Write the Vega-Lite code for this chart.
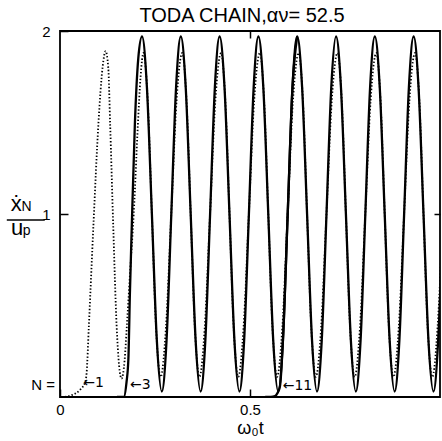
{
  "$schema": "https://vega.github.io/schema/vega-lite/v6.json",
  "width": 380,
  "height": 366,
  "autosize": {"type": "none"},
  "padding": {"left": 60, "top": 31, "right": 2, "bottom": 44},
  "title": {"text": "TODA CHAIN,αν= 52.5", "font": "Liberation Sans", "fontSize": 20, "fontWeight": "normal", "color": "black", "offset": -2, "dx": -8, "anchor": "middle"},
  "config": {
    "view": {"stroke": "black", "strokeWidth": 1.8},
    "font": "Liberation Sans",
    "axis": {"domain": false, "grid": false, "tickColor": "black", "tickWidth": 1.5, "labelColor": "black", "labelFont": "Liberation Sans", "labelFontSize": 15, "labelFlush": false, "titleFont": "Liberation Sans", "titleColor": "black", "titleFontWeight": "normal"}
  },
  "datasets": {
    "curves": [
      {"N": 1, "t": 0.013, "v": 0}, {"N": 1, "t": 0.031, "v": 0.01}, {"N": 1, "t": 0.053, "v": 0.04}, {"N": 1, "t": 0.066, "v": 0.08}, {"N": 1, "t": 0.070, "v": 0.13}, {"N": 1, "t": 0.076, "v": 0.39}, {"N": 1, "t": 0.088, "v": 0.94}, {"N": 1, "t": 0.101, "v": 1.49}, {"N": 1, "t": 0.112, "v": 1.80}, {"N": 1, "t": 0.120, "v": 1.89}, {"N": 1, "t": 0.127, "v": 1.80}, {"N": 1, "t": 0.132, "v": 1.49}, {"N": 1, "t": 0.140, "v": 0.94}, {"N": 1, "t": 0.149, "v": 0.39}, {"N": 1, "t": 0.162, "v": 0.10}, {"N": 1, "t": 0.170, "v": 0.20}, {"N": 1, "t": 0.176, "v": 0.39}, {"N": 1, "t": 0.185, "v": 0.70}, {"N": 1, "t": 0.194, "v": 1.0}, {"N": 1, "t": 0.205, "v": 1.49}, {"N": 1, "t": 0.212, "v": 1.75},
      {"N": 1, "t": 0.2198, "v": 1.88}, {"N": 1, "t": 0.2308, "v": 1.62}, {"N": 1, "t": 0.2418, "v": 1.0}, {"N": 1, "t": 0.2528, "v": 0.38}, {"N": 1, "t": 0.2648, "v": 0.11}, {"N": 1, "t": 0.2788, "v": 0.38}, {"N": 1, "t": 0.2928, "v": 1.0}, {"N": 1, "t": 0.3068, "v": 1.62},
      {"N": 1, "t": 0.3219, "v": 1.88}, {"N": 1, "t": 0.3329, "v": 1.62}, {"N": 1, "t": 0.3439, "v": 1.0}, {"N": 1, "t": 0.3549, "v": 0.38}, {"N": 1, "t": 0.3669, "v": 0.11}, {"N": 1, "t": 0.3809, "v": 0.38}, {"N": 1, "t": 0.3949, "v": 1.0}, {"N": 1, "t": 0.4089, "v": 1.62},
      {"N": 1, "t": 0.4240, "v": 1.88}, {"N": 1, "t": 0.4350, "v": 1.62}, {"N": 1, "t": 0.4460, "v": 1.0}, {"N": 1, "t": 0.4570, "v": 0.38}, {"N": 1, "t": 0.4690, "v": 0.11}, {"N": 1, "t": 0.4830, "v": 0.38}, {"N": 1, "t": 0.4970, "v": 1.0}, {"N": 1, "t": 0.5110, "v": 1.62},
      {"N": 1, "t": 0.5261, "v": 1.88}, {"N": 1, "t": 0.5371, "v": 1.62}, {"N": 1, "t": 0.5481, "v": 1.0}, {"N": 1, "t": 0.5591, "v": 0.38}, {"N": 1, "t": 0.5711, "v": 0.11}, {"N": 1, "t": 0.5851, "v": 0.38}, {"N": 1, "t": 0.5991, "v": 1.0}, {"N": 1, "t": 0.6131, "v": 1.62},
      {"N": 1, "t": 0.6282, "v": 1.88}, {"N": 1, "t": 0.6392, "v": 1.62}, {"N": 1, "t": 0.6502, "v": 1.0}, {"N": 1, "t": 0.6612, "v": 0.38}, {"N": 1, "t": 0.6732, "v": 0.11}, {"N": 1, "t": 0.6872, "v": 0.38}, {"N": 1, "t": 0.7012, "v": 1.0}, {"N": 1, "t": 0.7152, "v": 1.62},
      {"N": 1, "t": 0.7304, "v": 1.88}, {"N": 1, "t": 0.7414, "v": 1.62}, {"N": 1, "t": 0.7524, "v": 1.0}, {"N": 1, "t": 0.7634, "v": 0.38}, {"N": 1, "t": 0.7754, "v": 0.11}, {"N": 1, "t": 0.7894, "v": 0.38}, {"N": 1, "t": 0.8034, "v": 1.0}, {"N": 1, "t": 0.8174, "v": 1.62},
      {"N": 1, "t": 0.8325, "v": 1.88}, {"N": 1, "t": 0.8435, "v": 1.62}, {"N": 1, "t": 0.8545, "v": 1.0}, {"N": 1, "t": 0.8655, "v": 0.38}, {"N": 1, "t": 0.8775, "v": 0.11}, {"N": 1, "t": 0.8915, "v": 0.38}, {"N": 1, "t": 0.9055, "v": 1.0}, {"N": 1, "t": 0.9195, "v": 1.62},
      {"N": 1, "t": 0.9346, "v": 1.88}, {"N": 1, "t": 0.9456, "v": 1.62}, {"N": 1, "t": 0.9566, "v": 1.0}, {"N": 1, "t": 0.9676, "v": 0.38}, {"N": 1, "t": 0.9796, "v": 0.11}, {"N": 1, "t": 0.9936, "v": 0.38}, {"N": 1, "t": 1.0076, "v": 1.0},
      {"N": 3, "t": 0.150, "v": 0}, {"N": 3, "t": 0.168, "v": 0}, {"N": 3, "t": 0.175, "v": 0.08}, {"N": 3, "t": 0.180, "v": 0.21}, {"N": 3, "t": 0.184, "v": 0.57}, {"N": 3, "t": 0.189, "v": 0.94}, {"N": 3, "t": 0.197, "v": 1.49}, {"N": 3, "t": 0.206, "v": 1.85},
      {"N": 3, "t": 0.2158, "v": 1.97}, {"N": 3, "t": 0.2288, "v": 1.69}, {"N": 3, "t": 0.2418, "v": 1.0}, {"N": 3, "t": 0.2548, "v": 0.31}, {"N": 3, "t": 0.2679, "v": 0.03}, {"N": 3, "t": 0.2804, "v": 0.31}, {"N": 3, "t": 0.2929, "v": 1.0}, {"N": 3, "t": 0.3054, "v": 1.69},
      {"N": 3, "t": 0.3179, "v": 1.97}, {"N": 3, "t": 0.3309, "v": 1.69}, {"N": 3, "t": 0.3439, "v": 1.0}, {"N": 3, "t": 0.3569, "v": 0.31}, {"N": 3, "t": 0.3700, "v": 0.03}, {"N": 3, "t": 0.3825, "v": 0.31}, {"N": 3, "t": 0.3950, "v": 1.0}, {"N": 3, "t": 0.4075, "v": 1.69},
      {"N": 3, "t": 0.4200, "v": 1.97}, {"N": 3, "t": 0.4330, "v": 1.69}, {"N": 3, "t": 0.4460, "v": 1.0}, {"N": 3, "t": 0.4590, "v": 0.31}, {"N": 3, "t": 0.4721, "v": 0.03}, {"N": 3, "t": 0.4846, "v": 0.31}, {"N": 3, "t": 0.4971, "v": 1.0}, {"N": 3, "t": 0.5096, "v": 1.69},
      {"N": 3, "t": 0.5221, "v": 1.97}, {"N": 3, "t": 0.5351, "v": 1.69}, {"N": 3, "t": 0.5481, "v": 1.0}, {"N": 3, "t": 0.5611, "v": 0.31}, {"N": 3, "t": 0.5742, "v": 0.03}, {"N": 3, "t": 0.5867, "v": 0.31}, {"N": 3, "t": 0.5992, "v": 1.0}, {"N": 3, "t": 0.6117, "v": 1.69},
      {"N": 3, "t": 0.6242, "v": 1.97}, {"N": 3, "t": 0.6372, "v": 1.69}, {"N": 3, "t": 0.6502, "v": 1.0}, {"N": 3, "t": 0.6632, "v": 0.31}, {"N": 3, "t": 0.6763, "v": 0.03}, {"N": 3, "t": 0.6888, "v": 0.31}, {"N": 3, "t": 0.7013, "v": 1.0}, {"N": 3, "t": 0.7138, "v": 1.69},
      {"N": 3, "t": 0.7264, "v": 1.97}, {"N": 3, "t": 0.7394, "v": 1.69}, {"N": 3, "t": 0.7524, "v": 1.0}, {"N": 3, "t": 0.7654, "v": 0.31}, {"N": 3, "t": 0.7785, "v": 0.03}, {"N": 3, "t": 0.7910, "v": 0.31}, {"N": 3, "t": 0.8035, "v": 1.0}, {"N": 3, "t": 0.8160, "v": 1.69},
      {"N": 3, "t": 0.8285, "v": 1.97}, {"N": 3, "t": 0.8415, "v": 1.69}, {"N": 3, "t": 0.8545, "v": 1.0}, {"N": 3, "t": 0.8675, "v": 0.31}, {"N": 3, "t": 0.8806, "v": 0.03}, {"N": 3, "t": 0.8931, "v": 0.31}, {"N": 3, "t": 0.9056, "v": 1.0}, {"N": 3, "t": 0.9181, "v": 1.69},
      {"N": 3, "t": 0.9306, "v": 1.97}, {"N": 3, "t": 0.9436, "v": 1.69}, {"N": 3, "t": 0.9566, "v": 1.0}, {"N": 3, "t": 0.9696, "v": 0.31}, {"N": 3, "t": 0.9827, "v": 0.03}, {"N": 3, "t": 0.9952, "v": 0.31}, {"N": 3, "t": 1.0077, "v": 1.0},
      {"N": 11, "t": 0.540, "v": 0}, {"N": 11, "t": 0.555, "v": 0}, {"N": 11, "t": 0.566, "v": 0.005}, {"N": 11, "t": 0.572, "v": 0.02}, {"N": 11, "t": 0.579, "v": 0.06}, {"N": 11, "t": 0.5867, "v": 0.31}, {"N": 11, "t": 0.5992, "v": 1.0}, {"N": 11, "t": 0.6117, "v": 1.69}, {"N": 11, "t": 0.6242, "v": 1.97}
    ],
    "curveLabels": [
      {"t": 0.061, "v": 0.077, "label": "←1"},
      {"t": 0.184, "v": 0.066, "label": "←3"},
      {"t": 0.586, "v": 0.06, "label": "←11"}
    ],
    "nLabel": [{"t": -0.013, "v": 0.066, "label": "N ="}],
    "yTitleBig": [{"t": -0.115, "v": 1.055, "label": "ẋ"}, {"t": -0.113, "v": 0.925, "label": "u"}],
    "yTitleSmall": [{"t": -0.088, "v": 1.04, "label": "N"}, {"t": -0.088, "v": 0.905, "label": "p"}],
    "yTitleBar": [{"t": -0.14, "t2": -0.04, "v": 0.967}],
    "frameTicks": [{"t": 0.5, "v": 1}]
  },
  "resolve": {"axis": {"x": "independent", "y": "independent"}},
  "layer": [
    {
      "data": {"name": "curves"},
      "transform": [{"filter": "datum.N == 1"}],
      "mark": {"type": "line", "interpolate": "monotone", "color": "black", "strokeWidth": 1.8, "strokeDash": [1.4, 2.0], "clip": true},
      "encoding": {
        "x": {"field": "t", "type": "quantitative", "scale": {"domain": [0, 1], "nice": false},
              "axis": {"orient": "bottom", "offset": -8, "tickSize": 8, "values": [0, 0.5], "labelExpr": "datum.value == 0 ? '0' : '0.5'", "labelPadding": 5, "title": "ω₀t", "titleFontSize": 18, "titlePadding": 2}},
        "y": {"field": "v", "type": "quantitative", "scale": {"domain": [0, 2], "nice": false},
              "axis": {"orient": "left", "offset": -8, "tickSize": 8, "values": [1, 2], "labelExpr": "datum.value == 1 ? '1' : '2'", "labelPadding": 10, "title": null}}
      }
    },
    {
      "data": {"name": "curves"},
      "transform": [{"filter": "datum.N != 1"}],
      "mark": {"type": "line", "interpolate": "monotone", "color": "black", "strokeWidth": 2.3, "clip": true},
      "encoding": {
        "x": {"field": "t", "type": "quantitative", "axis": null},
        "y": {"field": "v", "type": "quantitative", "axis": null},
        "detail": {"field": "N", "type": "nominal"}
      }
    },
    {
      "data": {"name": "frameTicks"},
      "mark": {"type": "point", "opacity": 0},
      "encoding": {
        "x": {"field": "t", "type": "quantitative", "axis": {"orient": "top", "offset": -7, "tickSize": 7, "values": [0.5], "labels": false, "title": null}},
        "y": {"field": "v", "type": "quantitative", "axis": {"orient": "right", "offset": -6, "tickSize": 6, "values": [1], "labels": false, "title": null}}
      }
    },
    {
      "data": {"name": "curveLabels"},
      "mark": {"type": "text", "align": "left", "baseline": "middle", "font": "DejaVu Sans", "fontSize": 14, "color": "black"},
      "encoding": {
        "x": {"field": "t", "type": "quantitative", "axis": null},
        "y": {"field": "v", "type": "quantitative", "axis": null},
        "text": {"field": "label"}
      }
    },
    {
      "data": {"name": "nLabel"},
      "mark": {"type": "text", "align": "right", "baseline": "middle", "font": "Liberation Sans", "fontSize": 15, "color": "black"},
      "encoding": {
        "x": {"field": "t", "type": "quantitative", "axis": null},
        "y": {"field": "v", "type": "quantitative", "axis": null},
        "text": {"field": "label"}
      }
    },
    {
      "data": {"name": "yTitleBig"},
      "mark": {"type": "text", "align": "center", "baseline": "middle", "font": "Liberation Sans", "fontSize": 22, "color": "black"},
      "encoding": {
        "x": {"field": "t", "type": "quantitative", "axis": null},
        "y": {"field": "v", "type": "quantitative", "axis": null},
        "text": {"field": "label"}
      }
    },
    {
      "data": {"name": "yTitleSmall"},
      "mark": {"type": "text", "align": "center", "baseline": "middle", "font": "Liberation Sans", "fontSize": 14, "color": "black"},
      "encoding": {
        "x": {"field": "t", "type": "quantitative", "axis": null},
        "y": {"field": "v", "type": "quantitative", "axis": null},
        "text": {"field": "label"}
      }
    },
    {
      "data": {"name": "yTitleBar"},
      "mark": {"type": "rule", "color": "black", "strokeWidth": 1.5},
      "encoding": {
        "x": {"field": "t", "type": "quantitative", "axis": null},
        "x2": {"field": "t2"},
        "y": {"field": "v", "type": "quantitative", "axis": null}
      }
    }
  ]
}
